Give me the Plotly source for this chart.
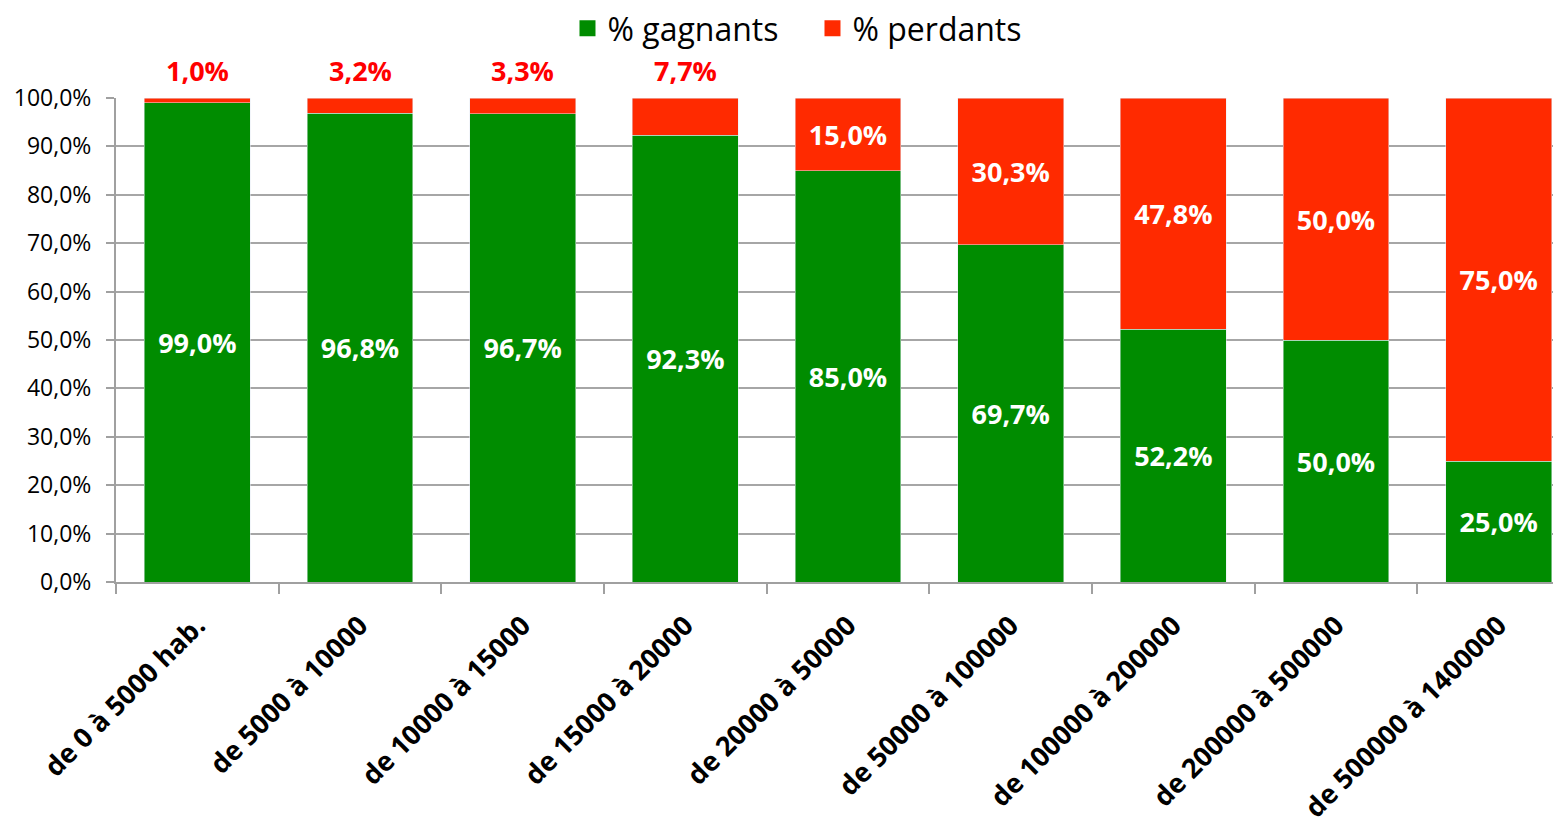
import plotly.graph_objects as go

categories = ["de 0 à 5000 hab.", "de 5000 à 10000", "de 10000 à 15000", "de 15000 à 20000",
              "de 20000 à 50000", "de 50000 à 100000", "de 100000 à 200000",
              "de 200000 à 500000", "de 500000 à 1400000"]
gagnants = [99.0, 96.8, 96.7, 92.3, 85.0, 69.7, 52.2, 50.0, 25.0]
perdants = [1.0, 3.2, 3.3, 7.7, 15.0, 30.3, 47.8, 50.0, 75.0]
y_ticks = [0, 10, 20, 30, 40, 50, 60, 70, 80, 90, 100]

GREEN = "#008C00"
RED = "#FF2A00"
FONT = "Open Sans"

def fmt(v):
    return f"{v:.1f}".replace(".", ",") + "%"

inside_threshold = 10
red_text = [fmt(v) if v >= inside_threshold else "" for v in perdants]

fig = go.Figure()
fig.add_trace(go.Bar(
    x=categories, y=gagnants, name="% gagnants", marker_color=GREEN,
    text=[fmt(v) for v in gagnants], textposition="inside", insidetextanchor="middle",
    textfont=dict(family=FONT, size=27, color="white", weight="bold"),
    constraintext="none", showlegend=False, hoverinfo="skip",
))
fig.add_trace(go.Bar(
    x=categories, y=perdants, name="% perdants", marker_color=RED,
    text=red_text, textposition="inside", insidetextanchor="middle",
    textfont=dict(family=FONT, size=27, color="white", weight="bold"),
    constraintext="none", showlegend=False, hoverinfo="skip",
))
for name, col in [("% gagnants", GREEN), ("% perdants", RED)]:
    fig.add_trace(go.Scatter(x=[None], y=[None], mode="markers", name=name,
                             marker=dict(symbol="square", size=26, color=col)))

for c, g, p in zip(categories, gagnants, perdants):
    if p < inside_threshold:
        fig.add_annotation(x=c, y=g + p, text=fmt(p), showarrow=False,
                           yanchor="middle", yshift=28,
                           font=dict(family=FONT, size=27, color="#FF0000", weight="bold"))

fig.update_layout(
    width=1553, height=813,
    margin=dict(l=108, r=0, t=90, b=239, autoexpand=False),
    barmode="stack", bargap=0.35,
    plot_bgcolor="white", paper_bgcolor="white",
    font=dict(family=FONT, color="black"),
    legend=dict(orientation="h", x=0.482, xanchor="center",
                yref="container", y=0.975, yanchor="middle",
                font=dict(family=FONT, size=32), traceorder="normal",
                itemwidth=30, tracegroupgap=0,
                entrywidth=200, entrywidthmode="pixels"),
)
fig.update_xaxes(
    type="category", range=[-0.5, 8.383], showgrid=False,
    showline=True, linecolor="#A0A0A0", linewidth=2,
    ticks="outside", tickson="boundaries", ticklen=10, tickcolor="#A0A0A0", tickwidth=2,
    tickangle=-45, tickfont=dict(family=FONT, size=27, weight="bold"),
    ticklabelstandoff=15, automargin=False,
)
fig.update_yaxes(
    range=[0, 100], tickvals=y_ticks, ticktext=[fmt(v) for v in y_ticks],
    showgrid=True, gridcolor="#A6A6A6", gridwidth=2,
    showline=True, linecolor="#A0A0A0", linewidth=2,
    ticks="outside", ticklen=8, tickcolor="#A0A0A0", tickwidth=2,
    ticklabelstandoff=10,
    tickfont=dict(family=FONT, size=23), automargin=False, zeroline=False,
)

fig.write_html("out.html")
